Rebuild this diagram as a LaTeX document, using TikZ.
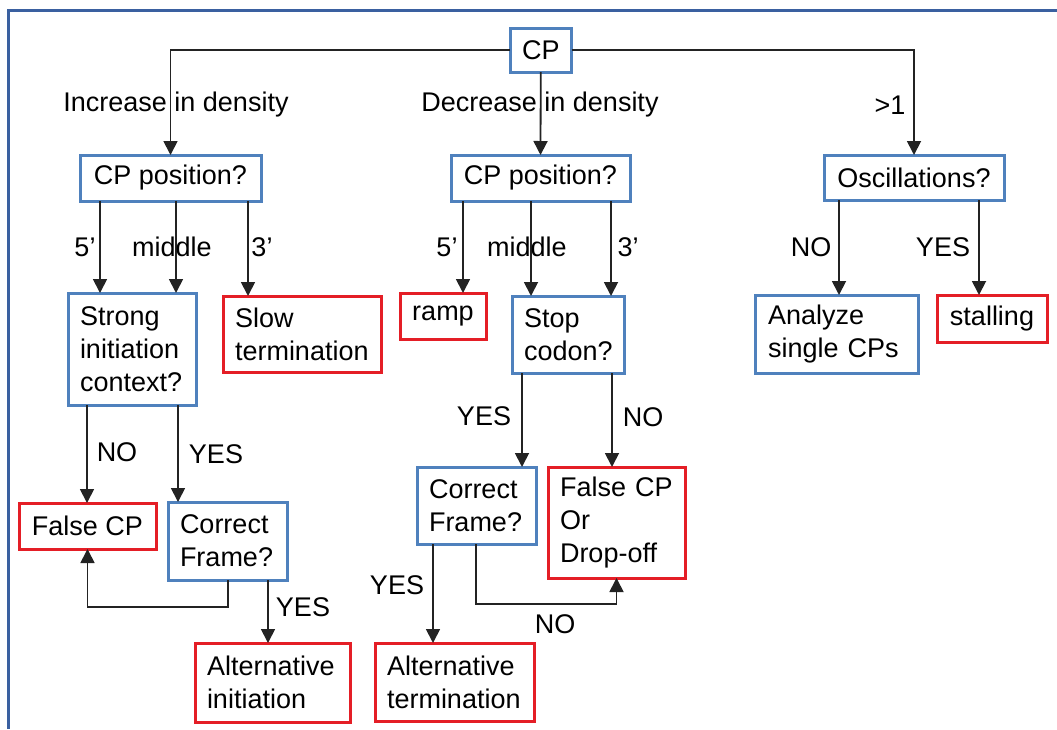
\documentclass[tikz,border=0pt]{standalone}
\usepackage{fontspec}
\setmainfont{Liberation Sans}
\usetikzlibrary{arrows.meta}

\definecolor{boxblue}{RGB}{79,129,189}
\definecolor{boxred}{RGB}{228,30,38}
\definecolor{frameblue}{RGB}{58,96,160}
\definecolor{linegray}{RGB}{35,35,35}

\tikzset{
	box/.style={draw, line width=3pt, outer sep=0pt, inner xsep=12pt, inner ysep=3pt,
		anchor=north west, font=\fontsize{27}{33}\selectfont},
	bluebox/.style={box, draw=boxblue},
	redbox/.style={box, draw=boxred},
	boxsize/.style 2 args={minimum width=#1, minimum height=#2, align=center},
	leftbox/.style 2 args={text width=#1, minimum height=#2, align=left},
	arr/.style={linegray, line width=1.8pt, -{Triangle[width=14pt,length=14pt]}},
	lbl/.style={font=\fontsize{27}{33}\selectfont, inner sep=0pt}
}

\begin{document}
\begin{tikzpicture}[x=1pt, y=-1pt]
	\useasboundingbox (0,0) rectangle (1057,729);
	\draw[frameblue, line width=3pt] (1057,10) -- (8,10) -- (8,729);
	% top level
	\node[bluebox, boxsize={61pt}{44pt}] (cp) at (510,28) {CP};
	\node[bluebox, boxsize={181pt}{46pt}] (cpl) at (80,155) {CP position?};
	\node[bluebox, boxsize={179pt}{46pt}] (cpm) at (451,155) {CP position?};
	\node[bluebox, boxsize={180pt}{45pt}] (osc) at (824,155) {Oscillations?};
	% second row
	\node[bluebox, leftbox={104pt}{112pt}] (strong) at (68,293) {Strong\\initiation\\context?};
	\node[redbox, leftbox={134pt}{76pt}] (slow) at (223,296) {Slow\\termination};
	\node[redbox, boxsize={86pt}{46pt}] (ramp) at (400,293) {ramp};
	\node[bluebox, leftbox={88pt}{77pt}] (stop) at (512,296) {Stop\\codon?};
	\node[bluebox, leftbox={137pt}{78pt}, inner xsep=13pt] (analyze) at (755,295) {Analyze\\single~CPs};
	\node[redbox, boxsize={110pt}{47pt}] (stall) at (937,295) {stalling};
	% third row
	\node[redbox, boxsize={137pt}{46pt}] (falsel) at (19,503) {False CP};
	\node[bluebox, leftbox={95pt}{78pt}] (cfl) at (168,502) {Correct\\Frame?};
	\node[bluebox, leftbox={95pt}{77pt}] (cfm) at (417,467) {Correct\\Frame?};
	\node[redbox, leftbox={113pt}{111pt}] (drop) at (548,467) {False CP\\Or\\Drop-off};
	% bottom row
	\node[redbox, leftbox={131pt}{79pt}] (alti) at (195,643) {Alternative\\initiation};
	\node[redbox, leftbox={135pt}{78pt}] (altt) at (375,643) {Alternative\\termination};

	% connectors
	\draw[arr] (cp.west) -| (cpl.north);
	\draw[arr] (cp.south) -- (cpm.north);
	\draw[arr] (cp.east) -| (osc.north);
	\foreach \a/\b/\x in {cpl/strong/100, cpl/strong/176, cpl/slow/248,
		cpm/ramp/463, cpm/stop/531, cpm/stop/611, osc/analyze/839, osc/stall/979,
		strong/falsel/87, strong/cfl/178, stop/cfm/522, stop/drop/612,
		cfl/alti/268, cfm/altt/433}
		\draw[arr] (\x,0 |- \a.south) -- (\x,0 |- \b.north);
	\draw[arr] (228,0 |- cfl.south) -- ++(0,27) -| (falsel.south);
	\draw[arr] (476,0 |- cfm.south) -- ++(0,60) -| (drop.south);

	% labels
	\foreach \n/\x/\y/\t in {lincr/176/105/Increase in density, ldecr/540/105/Decrease in density,
		lgt/890/105/>1, lfivel/85/247/5’, lmidl/172/247/middle, lthreel/262/247/3’,
		lfivem/447/247/5’, lmidm/527/247/middle, lthreem/628/247/3’,
		lnoosc/811/247/NO, lyesosc/943/247/YES, lnoctx/117/452/NO, lyesctx/216/454/YES,
		lyesfl/303/607/YES, lyesstop/484/416/YES, lnostop/643/417/NO,
		lyesfm/397/585/YES, lnofm/555/624/NO}
		\node[lbl] (\n) at (\x,\y) {\t};
\end{tikzpicture}
\end{document}
